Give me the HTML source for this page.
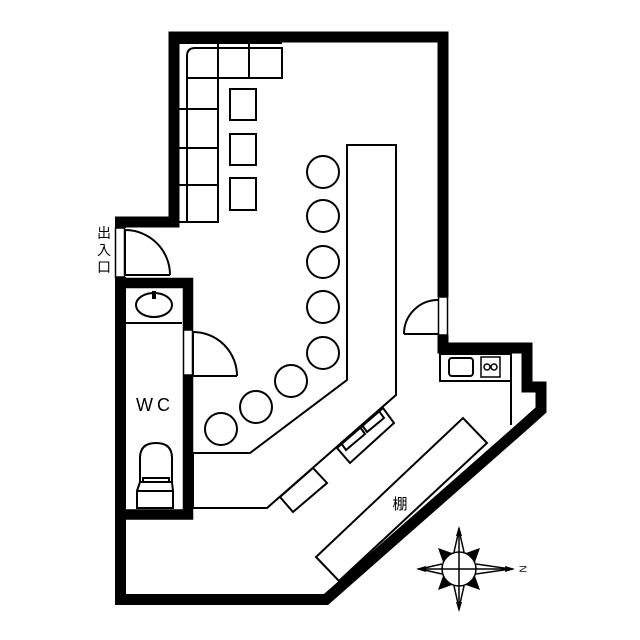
<!DOCTYPE html>
<html><head><meta charset="utf-8"><style>html,body{margin:0;padding:0;background:#fff}svg{display:block}</style></head>
<body>
<svg width="640" height="640" viewBox="0 0 640 640" xmlns="http://www.w3.org/2000/svg">
<rect width="640" height="640" fill="#fff"/>
<!-- outer wall -->
<polygon points="120.5,222 174,222 174,37 443,37 443,348 527,348 527,387 541,387 541,410 522,427 326,599.5 120.5,599.5" fill="none" stroke="#000" stroke-width="11" stroke-linejoin="miter"/>
<!-- door gaps -->
<rect x="113" y="228" width="15" height="49" fill="#fff"/>
<rect x="115.5" y="228" width="9" height="49" fill="none" stroke="#000" stroke-width="1.5"/>
<rect x="436" y="297" width="14" height="38" fill="#fff"/>
<rect x="438.5" y="297" width="9" height="38" fill="none" stroke="#000" stroke-width="1.5"/>
<!-- WC walls -->
<polyline points="120,283 188,283 188,514.5 120,514.5" fill="none" stroke="#000" stroke-width="10.5"/>
<rect x="181" y="330" width="14" height="45" fill="#fff"/>
<rect x="183.5" y="330" width="9" height="45" fill="none" stroke="#000" stroke-width="1.5"/>
<g fill="none" stroke="#000" stroke-width="2">
<!-- doors -->
<path d="M125,229 L125,275 L170,275 M125,230 A45,45 0 0 1 170,275"/>
<path d="M193,332 L193,376 L237,376 M193,332 A44,44 0 0 1 237,376"/>
<path d="M438,334 L404,334 M404,334 A34,34 0 0 1 438,300"/>
<!-- bench -->
<path d="M187,222 L187,56 Q187,48 195,48 L282,48 L282,78 L187,78"/>
<path d="M179,43 L282,43"/>
<path d="M218,48 L218,222 L179,222"/>
<path d="M249,43 L249,78 M218,43 L218,48"/>
<path d="M179,109 L218,109 M179,148 L218,148 M179,185 L218,185"/>
<rect x="230" y="89" width="26" height="31"/>
<rect x="230" y="134" width="26" height="31"/>
<rect x="230" y="178" width="26" height="32"/>
<!-- stools -->
<circle cx="323" cy="172" r="16"/>
<circle cx="323" cy="216" r="16"/>
<circle cx="323" cy="262" r="16"/>
<circle cx="323" cy="307" r="16"/>
<circle cx="323" cy="353" r="16"/>
<circle cx="291" cy="381" r="16"/>
<circle cx="256" cy="407" r="16"/>
<circle cx="221" cy="429" r="16"/>
<!-- counter -->
<polygon points="193,453 250,453 347,380 347,145 396,145 396,395 267,508 193,508"/>
<polygon points="280,497 313,468 327,483 293,512" fill="#fff"/>
<polygon points="337,448 383,408 394,423 350,463" fill="#fff"/>
<polygon points="341,443 360,427 365,434 346,450"/>
<polygon points="362,425 379,411 384,418 367,432"/>
<!-- shelf -->
<polygon points="316,557 463,418 487,443 339,581"/>
<!-- kitchen -->
<rect x="440" y="354" width="71" height="27"/>
<path d="M511,381 L511,425"/>
<rect x="449" y="358" width="24" height="18" rx="3"/>
<rect x="481" y="357" width="19" height="20" stroke-width="1.5"/>
<circle cx="487" cy="367" r="3" stroke-width="1.5"/>
<circle cx="494" cy="367" r="3" stroke-width="1.5"/>
<!-- WC -->
<ellipse cx="154" cy="305" rx="18" ry="12"/>
<path d="M126,323 L182,323"/>
<path d="M140,482 L140,458 Q140,443 156,443 Q172,443 172,458 L172,482 Z"/>
<path d="M143,482 L143,478 L169,478 L169,482"/>
<rect x="137" y="491" width="36" height="17"/>
<path d="M140,482 L137,491 M172,482 L173,491"/>
</g>
<rect x="152" y="291" width="4" height="8" fill="#000"/>
<!-- compass -->
<g stroke="#000" stroke-width="1.5" fill="none">
<circle cx="459" cy="569" r="17" fill="#fff"/>
<path d="M459,528 L459,610 M418,569 L513,569"/>
<path d="M459,530 L454,552 M459,530 L464,552 M459,608 L454,586 M459,608 L464,586 M420,569 L442,564 M420,569 L442,574 M511,569 L476,564 M511,569 L476,574"/>
</g>
<g fill="#000">
<polygon points="459,526 456,536 462,536"/>
<polygon points="459,612 456,602 462,602"/>
<polygon points="416,569 426,566 426,572"/>
<polygon points="515,569 505,566 505,572"/>
<polygon points="438,548 452,553 443,562"/>
<polygon points="480,548 466,553 475,562"/>
<polygon points="438,590 452,585 443,576"/>
<polygon points="480,590 466,585 475,576"/>
</g>
<text x="522" y="569" font-family="Liberation Sans, sans-serif" font-size="10" transform="rotate(90 522 569)" text-anchor="middle" dominant-baseline="middle">N</text>
<!-- labels -->
<text x="155" y="411" font-family="Liberation Sans, sans-serif" font-size="18" text-anchor="middle" letter-spacing="4">WC</text>
<text x="400" y="509" font-family="Liberation Sans, 'Noto Sans CJK JP', sans-serif" font-size="15" text-anchor="middle">棚</text>
<text font-family="Liberation Sans, 'Noto Sans CJK JP', sans-serif" font-size="14" text-anchor="middle">
<tspan x="104" y="238">出</tspan><tspan x="104" y="255">入</tspan><tspan x="104" y="272">口</tspan></text>
</svg>
</body></html>
